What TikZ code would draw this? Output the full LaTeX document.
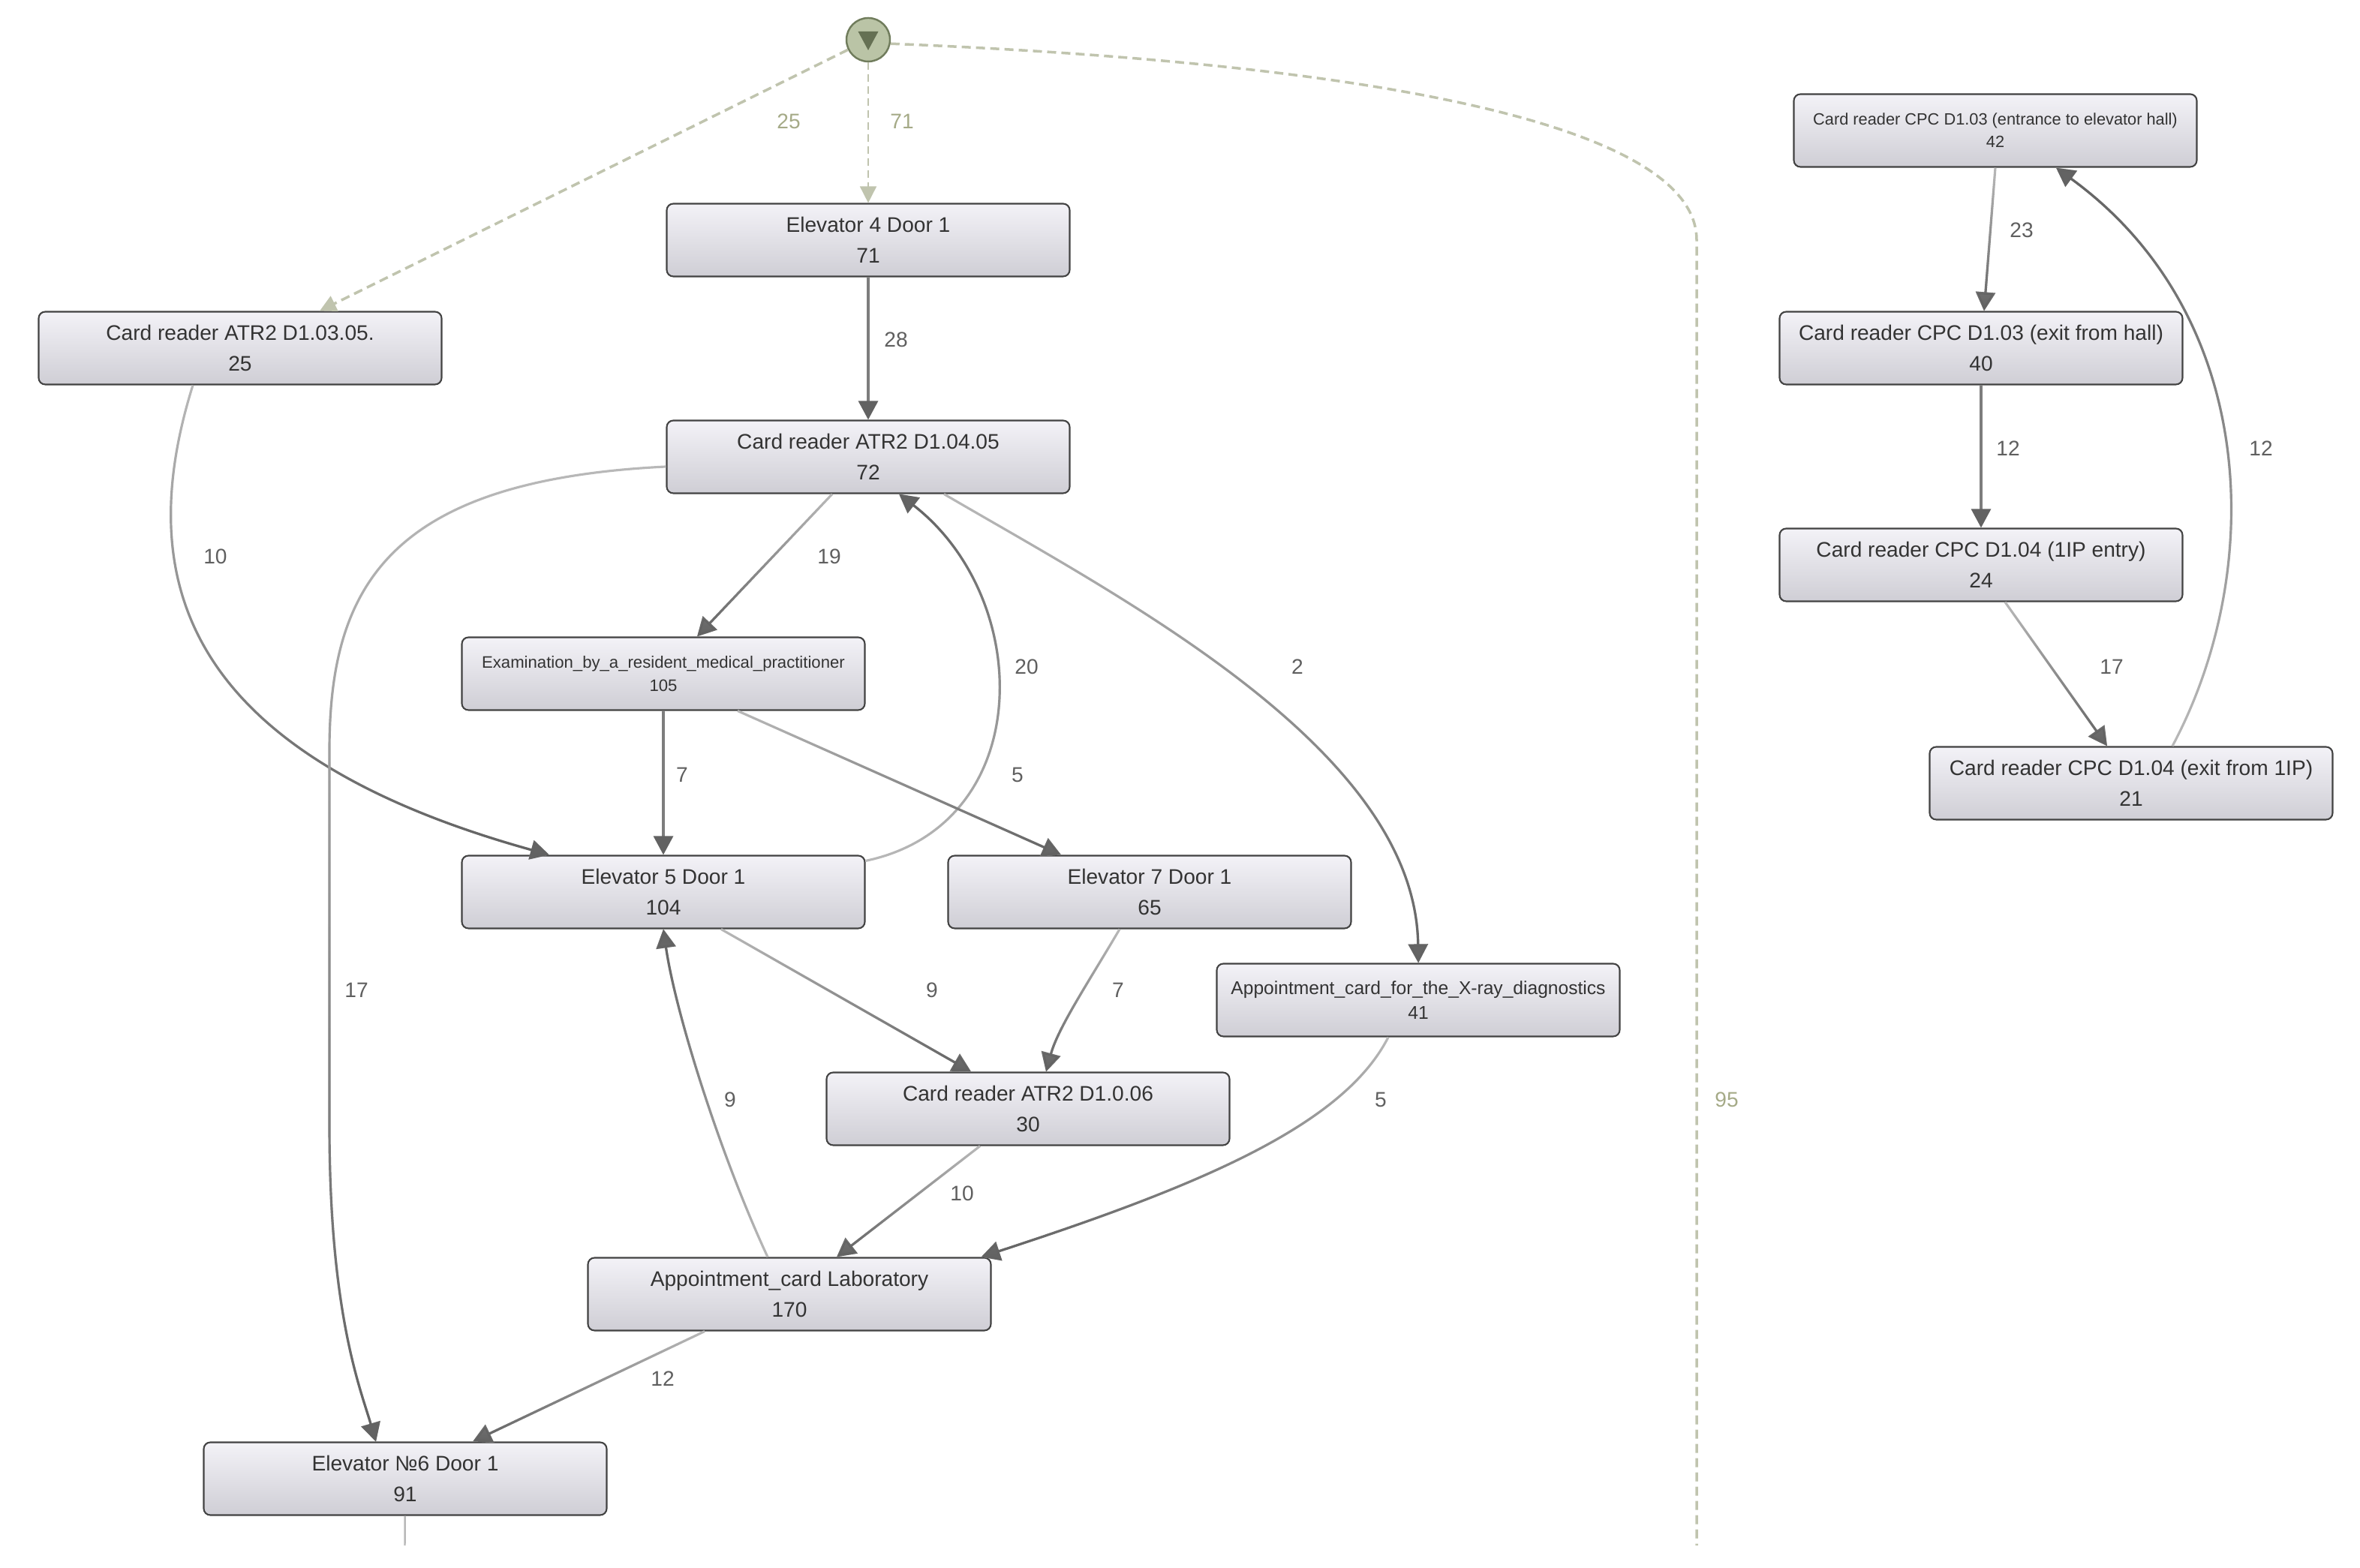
\documentclass[tikz,border=0pt]{standalone}
\usepackage{fontspec}
\setmainfont{Liberation Sans}
\usepackage{xcolor}
\usetikzlibrary{arrows.meta, positioning, fadings}

\definecolor{boxtop}{RGB}{243,242,247}
\definecolor{boxbottom}{RGB}{207,206,213}
\definecolor{boxline}{RGB}{66,66,66}
\definecolor{flowlight}{RGB}{185,185,185}
\definecolor{flowmid}{RGB}{125,125,125}
\definecolor{flowdark}{RGB}{98,98,98}
\definecolor{lblgray}{RGB}{95,95,95}
\definecolor{startfill}{RGB}{186,196,166}
\definecolor{startline}{RGB}{112,124,92}
\definecolor{startdash}{RGB}{192,196,174}
\definecolor{startlabel}{RGB}{165,170,135}

\begin{document}
\begin{tikzpicture}[
    box/.style={
        rectangle,
        rounded corners=2.5pt,
        minimum width=5.37cm,
        minimum height=0.97cm,
        align=center,
        draw=boxline,
        line width=0.6pt,
        top color=boxtop,
        bottom color=boxbottom,
        text=black!80,
        font=\fontsize{8}{11.7}\selectfont
    },
    startnode/.style={
        circle,
        minimum size=0.58cm,
        draw=startline,
        line width=0.7pt,
        fill=startfill,
        path picture={
            \fill[startline!90!black]
                ([shift={(-0.135,0.11)}]path picture bounding box.center)
                -- ([shift={(0.135,0.11)}]path picture bounding box.center)
                -- ([shift={(0,-0.14)}]path picture bounding box.center) -- cycle;
        }
    },
    startflow/.style={
        draw=startdash,
        line width=1pt,
        dash pattern=on 0.12cm off 0.07cm,
        -{Triangle[length=0.22cm, width=0.22cm]}
    },
    flow/.style={
        draw=flowlight,
        line width=0.9pt,
        -{Triangle[length=0.25cm, width=0.26cm]},
        postaction={draw=flowdark, path fading=#1}
    },
    flow/.default=north,
    flowflat/.style={
        draw=flowmid,
        line width=0.9pt,
        -{Triangle[length=0.25cm, width=0.26cm, color=flowdark]}
    },
    lbl/.style={font=\fontsize{8}{9}\selectfont, text=lblgray},
    startlbl/.style={lbl, text=startlabel}
]

\useasboundingbox (0,0) rectangle (31.45,20.90);

% Start event
\node[startnode] (start) at (11.57, 20.37) {};

% Activities
\node[box] (elev4) at (11.57, 17.70) {Elevator 4 Door 1\\71};
\node[box] (atr0305) at (3.20, 16.26) {Card reader ATR2 D1.03.05.\\25};
\node[box] (atr0405) at (11.57, 14.81) {Card reader ATR2 D1.04.05\\72};
\node[box, font=\fontsize{6.3}{9}\selectfont] (exam) at (8.84, 11.92)
    {Examination\_by\_a\_resident\_medical\_practitioner\\105};
\node[box] (elev5) at (8.84, 9.01) {Elevator 5 Door 1\\104};
\node[box] (elev7) at (15.32, 9.01) {Elevator 7 Door 1\\65};
\node[box, font=\fontsize{7}{9.6}\selectfont] (xray) at (18.90, 7.57)
    {Appointment\_card\_for\_the\_X-ray\_diagnostics\\41};
\node[box] (atr006) at (13.70, 6.12) {Card reader ATR2 D1.0.06\\30};
\node[box] (lab) at (10.52, 3.65) {Appointment\_card Laboratory\\170};
\node[box] (elev6) at (5.40, 1.19) {Elevator №6 Door 1\\91};

% CPC card readers
\node[box, font=\fontsize{6.2}{8.6}\selectfont] (cpcin) at (26.59, 19.16)
    {Card reader CPC D1.03 (entrance to elevator hall)\\42};
\node[box] (cpchall) at (26.40, 16.26) {Card reader CPC D1.03 (exit from hall)\\40};
\node[box] (cpcentry) at (26.40, 13.37) {Card reader CPC D1.04 (1IP entry)\\24};
\node[box] (cpcexit) at (28.40, 10.46) {Card reader CPC D1.04 (exit from 1IP)\\21};

% Loose ends at the bottom
\coordinate (end95) at (22.61, 0.30);
\coordinate (end6) at (5.395, 0.30);

% Arcs from the start event
\draw[startflow, line width=0.5pt, dash pattern=on 0.1cm off 0.06cm] (start) -- (elev4);
\draw[startflow] (start) -- ([xshift=1.06cm]atr0305.north);
\draw[startflow, -] (start.-10) .. controls (18.50, 20.05) and (22.61, 19.20) .. (22.61, 17.70) -- (end95);

% Arcs between activities
\draw[flowflat] (elev4) -- (atr0405);
\draw[flow] ([xshift=-0.63cm]atr0305.south) .. controls (1.80, 13.30) and (2.30, 10.90) .. ([xshift=-1.52cm]elev5.north);
\draw[flow] ([xshift=-0.48cm]atr0405.south) -- ([xshift=0.45cm]exam.north);
\draw[flow=south] ([yshift=-0.08cm]elev5.north east) .. controls (13.80, 9.90) and (13.80, 12.90) .. ([xshift=0.41cm]atr0405.south);
\draw[flow] ([yshift=-0.13cm]atr0405.west) .. controls (5.20, 14.50) and (4.39, 13.10) .. (4.39, 10.90)
    -- (4.39, 5.90) .. controls (4.39, 3.40) and (4.80, 2.40) .. ([xshift=-0.39cm]elev6.north);
\draw[flowflat] (exam) -- (elev5);
\draw[flow] ([xshift=0.99cm]exam.south) -- ([xshift=-1.18cm]elev7.north);
\draw[flow] ([xshift=1.01cm]atr0405.south) .. controls (15.00, 12.90) and (18.86, 10.90) .. (xray.north);
\draw[flow] ([xshift=0.77cm]elev5.south) -- ([xshift=-0.76cm]atr006.north);
\draw[flow] ([xshift=-0.40cm]elev7.south) .. controls (14.50, 7.80) and (14.10, 7.20) .. ([xshift=0.24cm]atr006.north);
\draw[flow] ([xshift=-0.40cm]xray.south) .. controls (17.90, 5.90) and (16.00, 5.10) .. ([xshift=-0.14cm]lab.north east);
\draw[flow] ([xshift=-0.64cm]atr006.south) -- ([xshift=0.63cm]lab.north);
\draw[flow=south] ([xshift=-0.29cm]lab.north) .. controls (9.60, 5.50) and (9.00, 7.40) .. (elev5.south);
\draw[flow] ([xshift=-1.13cm]lab.south) -- ([xshift=0.90cm]elev6.north);
\draw[draw=flowlight, line width=0.7pt] (elev6) -- (end6);

% CPC arcs
\draw[flow] (cpcin.south) -- ([xshift=0.04cm]cpchall.north);
\draw[flowflat] (cpchall) -- (cpcentry);
\draw[flow] ([xshift=0.32cm]cpcentry.south) -- ([xshift=-0.32cm]cpcexit.north);
\draw[flow=south] ([xshift=0.55cm]cpcexit.north) .. controls (30.20, 13.30) and (30.10, 16.70) .. ([xshift=0.81cm]cpcin.south);

% Frequencies
\node[startlbl] (l71) at (12.02, 19.28) {71};
\node[startlbl] (l25) at (10.51, 19.28) {25};
\node[startlbl] (l95) at (23.01, 6.24) {95};
\node[lbl] (l28) at (11.94, 16.37) {28};
\node[lbl] (l10a) at (2.87, 13.48) {10};
\node[lbl] (l19) at (11.05, 13.48) {19};
\node[lbl] (l20) at (13.68, 12.01) {20};
\node[lbl] (l2) at (17.29, 12.01) {2};
\node[lbl] (l7a) at (9.09, 10.57) {7};
\node[lbl] (l5a) at (13.56, 10.57) {5};
\node[lbl] (l17a) at (4.75, 7.70) {17};
\node[lbl] (l9a) at (12.42, 7.70) {9};
\node[lbl] (l7b) at (14.90, 7.70) {7};
\node[lbl] (l9b) at (9.73, 6.24) {9};
\node[lbl] (l5b) at (18.40, 6.24) {5};
\node[lbl] (l10b) at (12.82, 4.99) {10};
\node[lbl] (l12a) at (8.83, 2.52) {12};
\node[lbl] (l23) at (26.94, 17.83) {23};
\node[lbl] (l12b) at (26.76, 14.92) {12};
\node[lbl] (l17b) at (28.14, 12.01) {17};
\node[lbl] (l12c) at (30.13, 14.92) {12};

\end{tikzpicture}
\end{document}
